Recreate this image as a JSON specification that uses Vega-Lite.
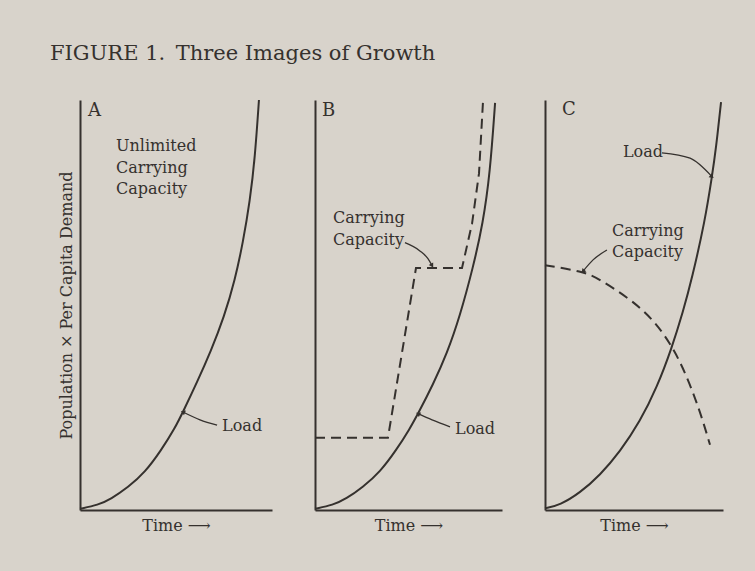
{
  "$schema": "https://vega.github.io/schema/vega-lite/v6.json",
  "padding": {"left": 50, "top": 43, "right": 31, "bottom": 39},
  "spacing": 39,
  "title": {"text": "FIGURE 1.\u2002Three Images of Growth", "anchor": "start", "frame": "bounds", "fontSize": 21, "fontWeight": "normal", "font": "DejaVu Serif", "color": "#35312e", "offset": 32, "dx": -8},
  "datasets": {
    "curves": [
      {"panel": "A", "series": "Load", "t": 0, "v": 0.3},
      {"panel": "A", "series": "Load", "t": 9.4, "v": 1.2},
      {"panel": "A", "series": "Load", "t": 16.1, "v": 2.7},
      {"panel": "A", "series": "Load", "t": 25.0, "v": 5.5},
      {"panel": "A", "series": "Load", "t": 33.9, "v": 9.2},
      {"panel": "A", "series": "Load", "t": 42.2, "v": 14.5},
      {"panel": "A", "series": "Load", "t": 49.5, "v": 20.0},
      {"panel": "A", "series": "Load", "t": 53.6, "v": 23.9},
      {"panel": "A", "series": "Load", "t": 60.9, "v": 31.1},
      {"panel": "A", "series": "Load", "t": 68.2, "v": 38.8},
      {"panel": "A", "series": "Load", "t": 75.0, "v": 47.0},
      {"panel": "A", "series": "Load", "t": 80.7, "v": 56.1},
      {"panel": "A", "series": "Load", "t": 84.9, "v": 65.3},
      {"panel": "A", "series": "Load", "t": 88.5, "v": 75.4},
      {"panel": "A", "series": "Load", "t": 91.1, "v": 85.8},
      {"panel": "A", "series": "Load", "t": 93.2, "v": 100},
      {"panel": "B", "series": "Load", "t": 0, "v": 0.3},
      {"panel": "B", "series": "Load", "t": 9.6, "v": 1.2},
      {"panel": "B", "series": "Load", "t": 16.6, "v": 2.7},
      {"panel": "B", "series": "Load", "t": 25.7, "v": 5.6},
      {"panel": "B", "series": "Load", "t": 34.8, "v": 9.3},
      {"panel": "B", "series": "Load", "t": 43.3, "v": 14.5},
      {"panel": "B", "series": "Load", "t": 50.8, "v": 19.9},
      {"panel": "B", "series": "Load", "t": 55.1, "v": 23.5},
      {"panel": "B", "series": "Load", "t": 63.1, "v": 30.6},
      {"panel": "B", "series": "Load", "t": 70.6, "v": 38.2},
      {"panel": "B", "series": "Load", "t": 77.5, "v": 47.3},
      {"panel": "B", "series": "Load", "t": 84.5, "v": 59.1},
      {"panel": "B", "series": "Load", "t": 89.8, "v": 69.9},
      {"panel": "B", "series": "Load", "t": 93.6, "v": 82.1},
      {"panel": "B", "series": "Load", "t": 96.3, "v": 99.3},
      {"panel": "B", "series": "Capacity", "t": 0, "v": 17.6},
      {"panel": "B", "series": "Capacity", "t": 39.0, "v": 17.6},
      {"panel": "B", "series": "Capacity", "t": 54.0, "v": 59.0},
      {"panel": "B", "series": "Capacity", "t": 78.6, "v": 59.0},
      {"panel": "B", "series": "Capacity", "t": 84.0, "v": 69.9},
      {"panel": "B", "series": "Capacity", "t": 87.7, "v": 82.1},
      {"panel": "B", "series": "Capacity", "t": 89.8, "v": 99.3},
      {"panel": "C", "series": "Load", "t": 0, "v": 0.4},
      {"panel": "C", "series": "Load", "t": 8.4, "v": 1.2},
      {"panel": "C", "series": "Load", "t": 19.7, "v": 4.2},
      {"panel": "C", "series": "Load", "t": 30.9, "v": 8.5},
      {"panel": "C", "series": "Load", "t": 42.1, "v": 14.2},
      {"panel": "C", "series": "Load", "t": 53.4, "v": 21.6},
      {"panel": "C", "series": "Load", "t": 62.9, "v": 29.9},
      {"panel": "C", "series": "Load", "t": 71.3, "v": 39.6},
      {"panel": "C", "series": "Load", "t": 77.5, "v": 48.3},
      {"panel": "C", "series": "Load", "t": 82.6, "v": 56.5},
      {"panel": "C", "series": "Load", "t": 89.9, "v": 70.6},
      {"panel": "C", "series": "Load", "t": 93.8, "v": 81.3},
      {"panel": "C", "series": "Load", "t": 96.1, "v": 88.3},
      {"panel": "C", "series": "Load", "t": 98.9, "v": 99.5},
      {"panel": "C", "series": "Capacity", "t": 0, "v": 59.7},
      {"panel": "C", "series": "Capacity", "t": 21.3, "v": 58.2},
      {"panel": "C", "series": "Capacity", "t": 29.8, "v": 56.5},
      {"panel": "C", "series": "Capacity", "t": 47.8, "v": 51.5},
      {"panel": "C", "series": "Capacity", "t": 60.7, "v": 46.5},
      {"panel": "C", "series": "Capacity", "t": 70.2, "v": 40.8},
      {"panel": "C", "series": "Capacity", "t": 77.5, "v": 34.8},
      {"panel": "C", "series": "Capacity", "t": 84.3, "v": 27.4},
      {"panel": "C", "series": "Capacity", "t": 88.8, "v": 21.6},
      {"panel": "C", "series": "Capacity", "t": 92.7, "v": 15.9}
    ],
    "leaders": [
      {"panel": "A", "id": "A-load", "t": 71.4, "v": 20.7},
      {"panel": "A", "id": "A-load", "t": 62.5, "v": 22.0},
      {"panel": "A", "id": "A-load", "t": 53.6, "v": 23.9},
      {"panel": "B", "id": "B-cap", "t": 48.1, "v": 65.2},
      {"panel": "B", "id": "B-cap", "t": 56.1, "v": 63.2},
      {"panel": "B", "id": "B-cap", "t": 60.4, "v": 61.3},
      {"panel": "B", "id": "B-cap", "t": 62.6, "v": 59.6},
      {"panel": "B", "id": "B-load", "t": 72.2, "v": 20.3},
      {"panel": "B", "id": "B-load", "t": 62.6, "v": 22.0},
      {"panel": "B", "id": "B-load", "t": 55.1, "v": 23.5},
      {"panel": "C", "id": "C-load", "t": 65.7, "v": 87.1},
      {"panel": "C", "id": "C-load", "t": 81.5, "v": 85.8},
      {"panel": "C", "id": "C-load", "t": 93.8, "v": 81.3},
      {"panel": "C", "id": "C-cap", "t": 34.8, "v": 63.4},
      {"panel": "C", "id": "C-cap", "t": 27.0, "v": 61.0},
      {"panel": "C", "id": "C-cap", "t": 21.3, "v": 58.2}
    ],
    "tips": [
      {"id": "A-load", "t": 53.6, "v": 23.9},
      {"id": "B-cap", "t": 62.6, "v": 59.6},
      {"id": "B-load", "t": 55.1, "v": 23.5},
      {"id": "C-load", "t": 93.8, "v": 81.3},
      {"id": "C-cap", "t": 21.3, "v": 58.2}
    ],
    "labels": [
      {"panel": "A", "kind": "letter", "label": "A", "t": 4.2, "v": 96.1},
      {"panel": "A", "kind": "note", "label": "Unlimited\nCarrying\nCapacity", "t": 18.75, "v": 87.5},
      {"panel": "A", "kind": "note", "label": "Load", "t": 74.0, "v": 19.3},
      {"panel": "B", "kind": "letter", "label": "B", "t": 3.7, "v": 96.1},
      {"panel": "B", "kind": "note", "label": "Carrying\nCapacity", "t": 9.6, "v": 69.9},
      {"panel": "B", "kind": "note", "label": "Load", "t": 74.9, "v": 18.6},
      {"panel": "C", "kind": "letter", "label": "C", "t": 9.6, "v": 96.3},
      {"panel": "C", "kind": "note", "label": "Load", "t": 43.8, "v": 86.0},
      {"panel": "C", "kind": "note", "label": "Carrying\nCapacity", "t": 37.6, "v": 66.9}
    ]
  },
  "hconcat": [
    {
      "width": 192, "height": 410,
      "encoding": {
        "x": {"field": "t", "type": "quantitative", "scale": {"domain": [0, 100], "nice": false, "zero": false}, "axis": {"title": "Time \u27f6"}},
        "y": {"field": "v", "type": "quantitative", "scale": {"domain": [0, 100], "nice": false, "zero": false}, "axis": {"title": "Population \u00d7 Per Capita Demand"}}
      },
      "layer": [
        {"data": {"name": "curves"}, "transform": [{"filter": "datum.panel === 'A' && datum.series === 'Load'"}], "mark": {"type": "line", "interpolate": "basis", "color": "#35312e", "strokeWidth": 2}, "encoding": {}},
        {"data": {"name": "leaders"}, "transform": [{"filter": "datum.panel === 'A'"}], "mark": {"type": "line", "interpolate": "monotone", "color": "#35312e", "strokeWidth": 1.3}, "encoding": {"detail": {"field": "id"}}},
        {"data": {"name": "tips"}, "transform": [{"filter": "datum.id === 'A-load'"}], "mark": {"type": "point", "shape": "triangle-up", "filled": true, "size": 26, "angle": 292, "color": "#35312e", "opacity": 1}, "encoding": {}},
        {"data": {"name": "labels"}, "transform": [{"filter": "datum.panel === 'A' && datum.kind === 'note'"}], "mark": {"type": "text", "align": "left", "baseline": "alphabetic", "lineBreak": "\n", "lineHeight": 21.5, "fontSize": 16, "color": "#35312e"}, "encoding": {"text": {"field": "label"}}},
        {"data": {"name": "labels"}, "transform": [{"filter": "datum.panel === 'A' && datum.kind === 'letter'"}], "mark": {"type": "text", "align": "left", "baseline": "alphabetic", "fontSize": 18, "color": "#35312e"}, "encoding": {"text": {"field": "label"}}}
      ]
    },
    {
      "width": 187, "height": 410,
      "encoding": {
        "x": {"field": "t", "type": "quantitative", "scale": {"domain": [0, 100], "nice": false, "zero": false}, "axis": {"title": "Time \u27f6"}},
        "y": {"field": "v", "type": "quantitative", "scale": {"domain": [0, 100], "nice": false, "zero": false}, "axis": {"title": null}}
      },
      "layer": [
        {"data": {"name": "curves"}, "transform": [{"filter": "datum.panel === 'B' && datum.series === 'Load'"}], "mark": {"type": "line", "interpolate": "basis", "color": "#35312e", "strokeWidth": 2}, "encoding": {}},
        {"data": {"name": "curves"}, "transform": [{"filter": "datum.panel === 'B' && datum.series === 'Capacity'"}], "mark": {"type": "line", "interpolate": "linear", "color": "#35312e", "strokeWidth": 2, "strokeDash": [10, 6]}, "encoding": {}},
        {"data": {"name": "leaders"}, "transform": [{"filter": "datum.panel === 'B'"}], "mark": {"type": "line", "interpolate": "monotone", "color": "#35312e", "strokeWidth": 1.3}, "encoding": {"detail": {"field": "id"}}},
        {"data": {"name": "tips"}, "transform": [{"filter": "datum.id === 'B-load'"}], "mark": {"type": "point", "shape": "triangle-up", "filled": true, "size": 26, "angle": 297, "color": "#35312e", "opacity": 1}, "encoding": {}},
        {"data": {"name": "tips"}, "transform": [{"filter": "datum.id === 'B-cap'"}], "mark": {"type": "point", "shape": "triangle-up", "filled": true, "size": 26, "angle": 150, "color": "#35312e", "opacity": 1}, "encoding": {}},
        {"data": {"name": "labels"}, "transform": [{"filter": "datum.panel === 'B' && datum.kind === 'note'"}], "mark": {"type": "text", "align": "left", "baseline": "alphabetic", "lineBreak": "\n", "lineHeight": 21.5, "fontSize": 16, "color": "#35312e"}, "encoding": {"text": {"field": "label"}}},
        {"data": {"name": "labels"}, "transform": [{"filter": "datum.panel === 'B' && datum.kind === 'letter'"}], "mark": {"type": "text", "align": "left", "baseline": "alphabetic", "fontSize": 18, "color": "#35312e"}, "encoding": {"text": {"field": "label"}}}
      ]
    },
    {
      "width": 178, "height": 410,
      "encoding": {
        "x": {"field": "t", "type": "quantitative", "scale": {"domain": [0, 100], "nice": false, "zero": false}, "axis": {"title": "Time \u27f6"}},
        "y": {"field": "v", "type": "quantitative", "scale": {"domain": [0, 100], "nice": false, "zero": false}, "axis": {"title": null}}
      },
      "layer": [
        {"data": {"name": "curves"}, "transform": [{"filter": "datum.panel === 'C' && datum.series === 'Load'"}], "mark": {"type": "line", "interpolate": "basis", "color": "#35312e", "strokeWidth": 2}, "encoding": {}},
        {"data": {"name": "curves"}, "transform": [{"filter": "datum.panel === 'C' && datum.series === 'Capacity'"}], "mark": {"type": "line", "interpolate": "basis", "color": "#35312e", "strokeWidth": 2, "strokeDash": [10, 6]}, "encoding": {}},
        {"data": {"name": "leaders"}, "transform": [{"filter": "datum.panel === 'C'"}], "mark": {"type": "line", "interpolate": "monotone", "color": "#35312e", "strokeWidth": 1.3}, "encoding": {"detail": {"field": "id"}}},
        {"data": {"name": "tips"}, "transform": [{"filter": "datum.id === 'C-load'"}], "mark": {"type": "point", "shape": "triangle-up", "filled": true, "size": 26, "angle": 130, "color": "#35312e", "opacity": 1}, "encoding": {}},
        {"data": {"name": "tips"}, "transform": [{"filter": "datum.id === 'C-cap'"}], "mark": {"type": "point", "shape": "triangle-up", "filled": true, "size": 26, "angle": 222, "color": "#35312e", "opacity": 1}, "encoding": {}},
        {"data": {"name": "labels"}, "transform": [{"filter": "datum.panel === 'C' && datum.kind === 'note'"}], "mark": {"type": "text", "align": "left", "baseline": "alphabetic", "lineBreak": "\n", "lineHeight": 21.5, "fontSize": 16, "color": "#35312e"}, "encoding": {"text": {"field": "label"}}},
        {"data": {"name": "labels"}, "transform": [{"filter": "datum.panel === 'C' && datum.kind === 'letter'"}], "mark": {"type": "text", "align": "left", "baseline": "alphabetic", "fontSize": 18, "color": "#35312e"}, "encoding": {"text": {"field": "label"}}}
      ]
    }
  ],
  "config": {
    "background": "#d8d3cb",
    "font": "DejaVu Serif",
    "view": {"stroke": null},
    "axis": {"domainColor": "#35312e", "domainWidth": 2, "ticks": false, "labels": false, "grid": false, "titleFont": "DejaVu Serif", "titleFontWeight": "normal", "titleFontSize": 16, "titleColor": "#35312e"},
    "axisX": {"titlePadding": 7},
    "axisY": {"titlePadding": 6}
  }
}
